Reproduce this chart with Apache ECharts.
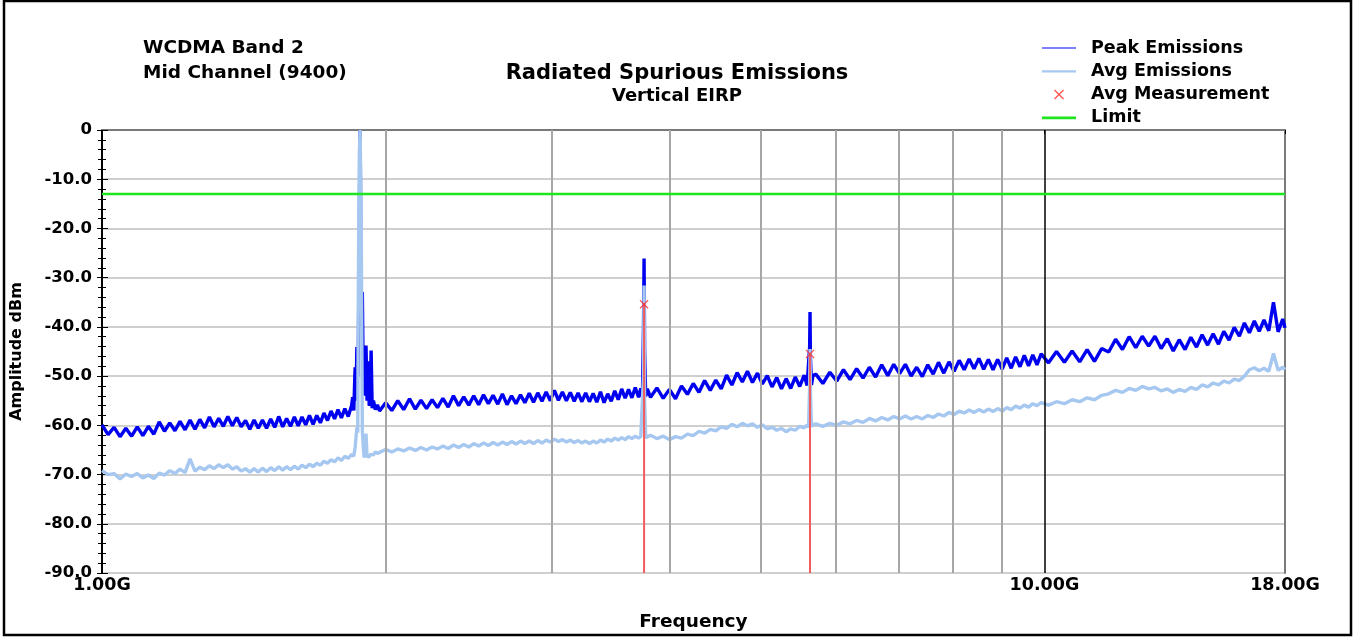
<!DOCTYPE html>
<html><head><meta charset="utf-8">
<script src="https://cdn.jsdelivr.net/npm/echarts@6/dist/echarts.min.js"></script>
<style>html,body{margin:0;padding:0;background:#fff}#c{width:1354px;height:637px}</style>
</head><body><div id="c"></div>
<script>
// Frequency sample points (GHz)
const freqGHz = [
  1.000,1.015,1.030,1.045,1.060,1.075,1.090,1.105,1.120,1.135,1.150,1.165,1.180,1.195,1.210,1.225,1.240,1.255,1.270,1.285,
  1.300,1.315,1.330,1.345,1.360,1.375,1.390,1.405,1.420,1.435,1.450,1.465,1.480,1.495,1.510,1.525,1.540,1.555,1.570,1.585,
  1.600,1.615,1.630,1.645,1.660,1.675,1.690,1.705,1.720,1.735,1.750,1.765,1.780,1.795,1.810,1.825,1.840,
  1.845,1.850,1.856,1.860,1.864,1.868,1.871,1.875,1.879,1.884,1.889,1.893,1.897,1.901,1.906,1.911,1.916,1.921,1.926,1.930,
  1.935,1.941,1.950,1.960,
  1.970,2.000,2.030,2.060,2.090,2.120,2.150,2.180,2.210,2.240,2.270,2.300,2.330,2.360,2.390,2.420,2.450,2.480,2.510,2.540,
  2.570,2.600,2.630,2.660,2.690,2.720,2.750,2.780,2.810,2.840,2.870,2.900,2.930,2.960,2.990,3.020,3.050,3.080,3.110,3.140,
  3.170,3.200,3.230,3.260,3.290,3.320,3.350,3.380,3.410,3.440,3.470,3.500,3.530,3.560,3.590,3.620,3.650,3.680,3.710,
  3.730,3.745,3.755,3.760,3.765,3.775,3.790,
  3.820,3.880,3.940,4.000,4.060,4.120,4.180,4.240,4.300,4.360,4.420,4.480,4.540,4.600,4.660,4.720,4.780,4.840,4.900,4.960,
  5.020,5.080,5.140,5.200,5.260,5.320,5.380,5.440,5.500,5.560,5.600,
  5.620,5.635,5.640,5.645,5.660,5.680,
  5.72,5.82,5.92,6.02,6.12,6.22,6.32,6.42,6.52,6.62,6.72,6.82,6.92,7.02,7.12,7.22,7.32,7.42,7.52,7.62,
  7.72,7.82,7.92,8.02,8.12,8.22,8.32,8.42,8.52,8.62,8.72,8.82,8.92,9.02,9.12,9.22,9.32,9.42,9.52,9.62,
  9.72,9.82,9.92,
  10.1,10.3,10.5,10.7,10.9,11.1,11.3,11.5,11.7,11.9,12.1,12.3,12.5,12.7,12.9,13.1,13.3,13.5,13.7,13.9,
  14.1,14.3,14.5,14.7,14.9,15.1,15.3,15.5,15.7,15.9,16.1,16.3,16.5,16.7,16.9,17.1,17.3,17.5,17.7,17.9,18.0
];
// Peak Emissions (dBm)
const peakDbm = [
  -59.9,-61.9,-60.4,-62.3,-60.6,-62.2,-60.3,-62.1,-60.2,-61.8,-59.3,-61.2,-59.5,-61.1,-59.2,-60.9,-58.9,-60.8,-58.8,-60.5,
  -58.3,-60.3,-58.6,-60.2,-58.2,-60.1,-58.4,-60.3,-59.0,-60.8,-58.9,-60.6,-58.9,-60.6,-58.7,-60.4,-58.2,-60.3,-58.6,-60.2,
  -58.3,-60.1,-58.3,-59.9,-58.0,-59.8,-58.0,-59.5,-57.5,-59.0,-57.1,-58.7,-56.8,-58.5,-56.6,-58.2,-56.0,
  -54.3,-57.0,-48.2,-55.0,-44.1,-50.0,-43.4,-20.0,0.0,-40.0,-32.9,-50.0,-48.9,-54.0,-43.8,-55.0,-47.0,-56.0,-55.5,-44.8,
  -56.5,-55.0,-56.8,-55.8,
  -57.1,-55.4,-57.0,-55.0,-56.8,-54.6,-56.7,-54.9,-56.6,-54.8,-56.4,-54.5,-56.3,-54.0,-56.0,-54.2,-55.9,-54.0,-55.8,-53.8,
  -55.6,-53.9,-55.7,-53.6,-55.8,-54.0,-55.6,-53.8,-55.4,-53.5,-55.3,-53.4,-55.1,-53.2,-55.0,-52.9,-54.9,-53.2,-55.0,-53.3,
  -55.1,-53.4,-55.2,-53.4,-55.2,-53.5,-55.3,-53.2,-55.4,-53.6,-55.1,-53.0,-54.8,-52.6,-54.5,-52.7,-54.4,-52.3,-54.3,
  -52.5,-54.2,-40.0,-26.1,-45.0,-54.1,-52.6,
  -54.3,-52.4,-54.5,-52.7,-54.6,-52.0,-53.7,-51.5,-53.3,-50.9,-52.9,-50.8,-52.6,-49.8,-51.8,-49.3,-51.2,-49.0,-51.3,-49.4,
  -51.6,-49.9,-52.2,-50.3,-52.6,-50.5,-52.5,-50.2,-52.1,-49.8,-51.9,
  -51.7,-44.0,-37.0,-46.0,-51.8,-49.9,
  -49.6,-51.5,-49.2,-51.0,-48.7,-50.7,-48.5,-50.4,-48.2,-50.2,-47.7,-49.9,-47.6,-49.5,-47.6,-50.0,-48.2,-50.1,-47.7,-49.6,
  -47.2,-49.4,-47.1,-49.0,-46.8,-48.7,-46.5,-48.5,-46.4,-48.6,-46.6,-48.7,-46.6,-48.6,-46.3,-48.4,-46.1,-48.1,-45.8,-47.9,
  -45.7,-47.7,-45.5,
  -47.3,-45.0,-47.2,-44.9,-47.1,-44.6,-47.0,-44.4,-45.1,-42.5,-44.6,-42.0,-44.2,-41.9,-43.9,-41.9,-44.4,-42.4,-44.9,-42.6,
  -44.6,-42.1,-44.1,-41.6,-43.7,-41.4,-43.5,-40.9,-42.7,-40.1,-41.9,-39.2,-41.2,-38.8,-40.9,-38.6,-40.8,-35.0,-41.0,-38.4,-40.2
];
// Avg Emissions (dBm)
const avgDbm = [
  -69.2,-70.0,-69.8,-70.9,-69.9,-70.4,-69.8,-70.7,-70.1,-70.8,-69.7,-70.1,-69.2,-69.8,-68.9,-69.6,-66.8,-69.3,-68.5,-69.0,
  -68.2,-68.8,-68.0,-68.6,-68.0,-68.9,-68.4,-69.3,-68.8,-69.5,-68.8,-69.5,-68.7,-69.4,-68.6,-69.2,-68.4,-69.1,-68.4,-69.0,
  -68.3,-68.9,-68.1,-68.6,-67.9,-68.4,-67.7,-68.1,-67.3,-67.7,-67.0,-67.4,-66.6,-67.1,-66.3,-66.7,-65.9,
  -66.0,-66.3,-64.5,-62.5,-60.4,-61.5,-30.0,-5.0,0.0,-20.0,-61.1,-64.0,-66.5,-66.0,-61.7,-66.3,-66.0,-66.4,-65.9,-66.2,
  -65.6,-66.0,-65.4,-65.7,
  -65.5,-64.9,-65.4,-64.8,-65.2,-64.6,-65.1,-64.5,-65.0,-64.4,-64.8,-64.2,-64.7,-64.0,-64.5,-63.9,-64.4,-63.7,-64.2,-63.6,
  -64.1,-63.5,-64.0,-63.4,-63.9,-63.3,-63.8,-63.2,-63.7,-63.2,-63.7,-63.1,-63.6,-63.0,-63.4,-62.8,-63.3,-62.9,-63.4,-63.0,
  -63.5,-63.1,-63.6,-63.2,-63.7,-63.2,-63.6,-63.0,-63.4,-62.8,-63.2,-62.6,-63.0,-62.5,-62.9,-62.3,-62.7,-62.2,-62.6,
  -62.3,-62.7,-50.0,-31.6,-55.0,-62.5,-62.1,
  -62.0,-62.7,-62.2,-62.9,-62.3,-62.6,-61.8,-62.1,-61.2,-61.6,-60.8,-61.1,-60.3,-60.6,-59.8,-60.3,-59.6,-60.1,-59.7,-60.4,
  -59.9,-60.7,-60.4,-61.0,-60.6,-61.3,-60.7,-61.0,-60.2,-60.5,-59.9,
  -60.4,-52.0,-44.5,-53.0,-60.3,-59.8,
  -59.7,-60.2,-59.6,-60.0,-59.3,-59.7,-59.0,-59.4,-58.6,-59.1,-58.4,-58.9,-58.2,-58.7,-58.1,-58.7,-58.2,-58.7,-58.0,-58.4,
  -57.7,-58.1,-57.4,-57.8,-57.1,-57.5,-56.9,-57.4,-56.8,-57.3,-56.7,-57.2,-56.6,-57.1,-56.4,-56.8,-56.1,-56.5,-55.9,-56.3,
  -55.6,-56.0,-55.4,
  -55.9,-55.2,-55.6,-54.8,-55.2,-54.4,-54.8,-53.9,-53.6,-52.9,-53.3,-52.5,-52.9,-52.1,-52.6,-52.3,-53.0,-52.6,-53.3,-52.7,
  -53.1,-52.3,-52.7,-51.8,-52.2,-51.4,-51.8,-51.0,-51.4,-50.6,-50.9,-50.0,-48.7,-48.3,-48.9,-48.4,-49.0,-45.4,-48.8,-48.2,-48.7
];
const limitDbm = -13;
const limitFreqGHz = [1, 18];
const measFreqGHz = [3.76, 5.64];
const measAvgDbm = [-35.4, -45.5];
const minorGridFreqGHz = [2, 3, 4, 5, 6, 7, 8, 9];
const majorGridFreqGHz = [10];
const xMin = 1, xMax = 18;
const yMin = -90, yMax = 0, yStep = 10;

const FONT = 'DejaVu Sans';
const chart = echarts.init(document.getElementById('c'), null, { renderer: 'canvas' });

const n = Math.min(freqGHz.length, peakDbm.length, avgDbm.length);
const peakData = [], avgData = [];
for (let i = 0; i < n; i++) { peakData.push([freqGHz[i], peakDbm[i]]); avgData.push([freqGHz[i], avgDbm[i]]); }
const crossPath = 'path://M0,1L1,0L5,4L9,0L10,1L6,5L10,9L9,10L5,6L1,10L0,9L4,5Z';

const dropSeries = measFreqGHz.map((f, i) => ({
  type: 'line', name: 'drop' + i, data: [[f, measAvgDbm[i]], [f, yMin]],
  symbol: 'none', silent: true, z: 5,
  lineStyle: { color: '#f25c5c', width: 2 }
}));

const option = {
  animation: false,
  backgroundColor: '#ffffff',
  title: [
    { text: 'Radiated Spurious Emissions', subtext: 'Vertical EIRP', left: 'center', top: 63, padding: 0, itemGap: 1,
      textStyle: { fontFamily: FONT, fontWeight: 'bold', fontSize: 21, lineHeight: 22, color: '#000' },
      subtextStyle: { fontFamily: FONT, fontWeight: 'bold', fontSize: 18, lineHeight: 20, color: '#000' } },
    { text: 'WCDMA Band 2\nMid Channel (9400)', left: 143, top: 36, padding: 0,
      textStyle: { fontFamily: FONT, fontWeight: 'bold', fontSize: 18.5, lineHeight: 24.5, color: '#000' } }
  ],
  legend: {
    orient: 'vertical', left: 1037, top: 34, itemWidth: 34, itemHeight: 10, itemGap: 5.3,
    textStyle: { fontFamily: FONT, fontWeight: 'bold', fontSize: 17.5, lineHeight: 18, color: '#000', padding: [0, 0, 0, 10] },
    data: [
      { name: 'Peak Emissions', icon: 'path://M0,0h34v1.2h-34z' },
      { name: 'Avg Emissions', icon: 'path://M0,0h34v2.2h-34z' },
      { name: 'Avg Measurement' },
      { name: 'Limit', icon: 'path://M0,0h34v2.6h-34z' }
    ]
  },
  graphic: [
    { type: 'rect', shape: { x: 4, y: 1, width: 1347, height: 634 }, style: { fill: 'none', stroke: '#000', lineWidth: 2.5 }, silent: true }
  ],
  grid: { left: 102, right: 69, top: 130, bottom: 64, containLabel: false },
  xAxis: {
    type: 'log', logBase: 10, min: xMin, max: xMax,
    name: 'Frequency', nameLocation: 'middle', nameGap: 40,
    nameTextStyle: { fontFamily: FONT, fontWeight: 'bold', fontSize: 18.5, color: '#000' },
    axisLine: { show: true, lineStyle: { color: '#7a7a7a', width: 2 } },
    axisTick: { show: true, length: 4, lineStyle: { color: '#000', width: 1 } },
    minorTick: { show: false },
    splitLine: { show: false },
    axisLabel: { margin: 3, fontFamily: FONT, fontWeight: 'bold', fontSize: 17.5, color: '#000',
      formatter: v => Number(v).toFixed(2) + 'G' }
  },
  yAxis: [
    {
      type: 'value', position: 'left', min: yMin, max: yMax, interval: yStep,
      name: 'Amplitude dBm', nameLocation: 'middle', nameGap: 77, nameRotate: 90,
      nameTextStyle: { fontFamily: FONT, fontWeight: 'bold', fontSize: 16, color: '#000' },
      axisLine: { show: true, lineStyle: { color: '#000', width: 2 } },
      axisTick: { show: true, length: 5, lineStyle: { color: '#000', width: 1 } },
      minorTick: { show: true, splitNumber: 5, length: 4, lineStyle: { color: '#000', width: 1 } },
      splitLine: { show: true, lineStyle: { color: '#cfcfcf', width: 2 } },
      axisLabel: { margin: 10, fontFamily: FONT, fontWeight: 'bold', fontSize: 16.5, color: '#000',
        formatter: v => (v === 0 ? '0' : v.toFixed(1)) }
    },
    {
      type: 'value', position: 'left', min: yMin, max: yMax, interval: yStep,
      axisLine: { show: false }, axisLabel: { show: false }, splitLine: { show: false },
      axisTick: { show: true, inside: true, length: 6, lineStyle: { color: '#000', width: 1 } },
      minorTick: { show: true, splitNumber: 5, length: 4, lineStyle: { color: '#000', width: 1 } }
    },
    {
      type: 'value', position: 'right', min: yMin, max: yMax, interval: yStep,
      axisLine: { show: true, lineStyle: { color: '#7a7a7a', width: 2 } },
      axisTick: { show: false }, axisLabel: { show: false }, splitLine: { show: false }
    }
  ],
  series: [
    {
      type: 'line', name: 'vgrid', data: [], z: 1, silent: true,
      markLine: {
        silent: true, symbol: ['none', 'none'], label: { show: false }, animation: false,
        lineStyle: { color: '#a6a6a6', width: 2, type: 'solid' },
        data: minorGridFreqGHz.map(f => ({ xAxis: f }))
          .concat(majorGridFreqGHz.map(f => ({ xAxis: f, lineStyle: { color: '#000', width: 1.5, type: 'solid' } })))
      }
    },
    {
      type: 'line', name: 'Peak Emissions', data: peakData, symbol: 'none', z: 3,
      lineStyle: { color: '#0000f0', width: 3.4, join: 'bevel' }, itemStyle: { color: '#0000f0' }
    },
    {
      type: 'line', name: 'Avg Emissions', data: avgData, symbol: 'none', z: 4,
      lineStyle: { color: '#a6c8f0', width: 3.4, join: 'bevel' }, itemStyle: { color: '#a6c8f0' }
    },
    {
      type: 'line', name: 'Limit', data: limitFreqGHz.map(f => [f, limitDbm]), symbol: 'none', z: 5,
      lineStyle: { color: '#1ee61e', width: 2.5 }, itemStyle: { color: '#1ee61e' }
    },
    ...dropSeries,
    {
      type: 'scatter', name: 'Avg Measurement', data: measFreqGHz.map((f, i) => [f, measAvgDbm[i]]),
      symbol: crossPath, symbolSize: 9, z: 6,
      itemStyle: { color: '#ff2a2a' }
    }
  ]
};
chart.setOption(option);
</script>
</body></html>
